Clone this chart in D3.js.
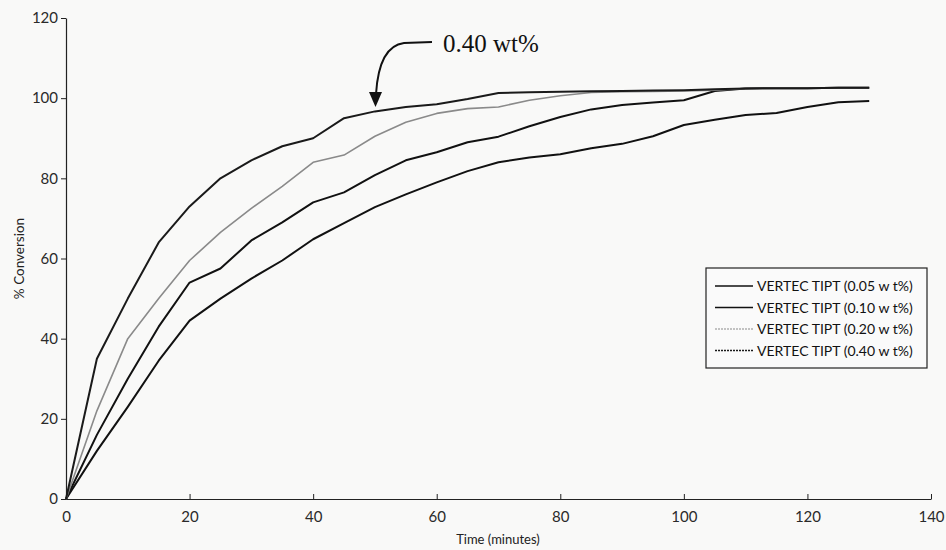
<!DOCTYPE html>
<html>
<head>
<meta charset="utf-8">
<script src="https://cdn.jsdelivr.net/npm/d3@7"></script>
<style>
  html, body { margin: 0; padding: 0; background: #f9f9f8; }
  svg { display: block; }
</style>
</head>
<body>
<svg id="chart" width="946" height="550"></svg>
<script>
// Sampling times (minutes)
const times = [0, 5, 10, 15, 20, 25, 30, 35, 40, 45, 50, 55, 60, 65, 70, 75, 80, 85, 90, 95, 100, 105, 110, 115, 120, 125, 130];

// % conversion per catalyst loading
const conv005 = [0, 12, 23, 34.5, 44.5, 50, 55, 59.5, 64.8, 68.8, 72.8, 76, 79, 81.8, 84, 85.2, 86, 87.5, 88.6, 90.5, 93.3, 94.6, 95.8, 96.3, 97.8, 99, 99.3];
const conv010 = [0, 16, 30, 43, 54, 57.5, 64.5, 69, 74, 76.5, 80.8, 84.5, 86.5, 89, 90.4, 93, 95.3, 97.2, 98.3, 98.9, 99.5, 101.8, 102.4, 102.5, 102.5, 102.6, 102.6];
const conv020 = [0, 22, 40, 50, 59.5, 66.5, 72.5, 78, 84, 85.8, 90.5, 94, 96.2, 97.4, 97.8, 99.5, 100.6, 101.4, 101.6, 101.7, 101.8, 102, 102.4, 102.5, 102.5, 102.6, 102.6];
const conv040 = [0, 35, 50, 64, 73, 80, 84.5, 88, 90, 95, 96.7, 97.8, 98.5, 99.8, 101.3, 101.5, 101.6, 101.7, 101.8, 101.9, 102, 102.2, 102.4, 102.5, 102.5, 102.6, 102.6];

const seriesNames = ["VERTEC TIPT (0.05 w t%)", "VERTEC TIPT (0.10 w t%)", "VERTEC TIPT (0.20 w t%)", "VERTEC TIPT (0.40 w t%)"];
const seriesValues = [conv005, conv010, conv020, conv040];

const xTicks = [0, 20, 40, 60, 80, 100, 120, 140];
const yTicks = [0, 20, 40, 60, 80, 100, 120];

const xTitle = "Time (minutes)";
const yTitle = "% Conversion";
const annotation = "0.40 wt%";

// Line styling per series
const strokeColors = ["#111", "#111", "#8a8a8a", "#1a1a1a"];
const strokeWidths = [2, 2, 1.6, 2];

const svg = d3.select("#chart");
const font = "Lato, 'Open Sans', sans-serif";

const x = d3.scaleLinear().domain([0, 140]).range([66, 931]);
const y = d3.scaleLinear().domain([0, 120]).range([499, 18]);

// Axes
const yAxis = svg.append("g")
  .attr("transform", `translate(${x(0)},0)`)
  .call(d3.axisLeft(y).tickValues(yTicks).tickSize(5).tickPadding(3).tickSizeOuter(0));
const xAxis = svg.append("g")
  .attr("transform", `translate(0,${y(0)})`)
  .call(d3.axisBottom(x).tickValues(xTicks).tickSize(-5).tickPadding(10).tickSizeOuter(0));

[xAxis, yAxis].forEach(g => {
  g.select(".domain").attr("stroke", "#222").attr("stroke-width", 1.2);
  g.selectAll(".tick line").attr("stroke", "#222").attr("stroke-width", 1);
  g.selectAll(".tick text")
    .attr("fill", "#2a2a2a")
    .style("font-family", font)
    .style("font-size", "15px");
});
xAxis.selectAll(".tick text").attr("dy", "0.85em");

// Axis titles
svg.append("text")
  .attr("x", 498).attr("y", 544)
  .attr("text-anchor", "middle")
  .style("font-family", font).style("font-size", "13px").attr("fill", "#222")
  .text(xTitle);
svg.append("text")
  .attr("transform", `translate(24,${y(60)}) rotate(-90)`)
  .attr("text-anchor", "middle")
  .style("font-family", font).style("font-size", "13.5px").attr("fill", "#222")
  .text(yTitle);

// Conversion curves
const line = d3.line().x((d, i) => x(times[i])).y(d => y(d));
seriesValues.forEach((vals, k) => {
  svg.append("path")
    .datum(vals)
    .attr("fill", "none")
    .attr("stroke", strokeColors[k])
    .attr("stroke-width", strokeWidths[k])
    .attr("stroke-linejoin", "round")
    .attr("d", line);
});

// Legend
const lg = svg.append("g").attr("transform", "translate(706,268)");
lg.append("rect")
  .attr("width", 221).attr("height", 100)
  .attr("fill", "#fafafa").attr("stroke", "#222").attr("stroke-width", 1.2);
seriesNames.forEach((name, k) => {
  const ly = 18 + k * 21.5;
  lg.append("line")
    .attr("x1", 9).attr("x2", 47).attr("y1", ly).attr("y2", ly)
    .attr("stroke", strokeColors[k])
    .attr("stroke-width", k === 2 ? 1.2 : 1.5)
    .attr("stroke-dasharray", k >= 2 ? "2,1" : null);
  lg.append("text")
    .attr("x", 51).attr("y", ly + 5)
    .style("font-family", font).style("font-size", "14px").attr("fill", "#111")
    .text(name);
});

// Annotation with curved arrow pointing at the 0.40 wt% curve
svg.append("text")
  .attr("x", 443).attr("y", 52)
  .style("font-family", "'Liberation Serif', 'DejaVu Serif', serif")
  .style("font-size", "25px").attr("fill", "#111")
  .text(annotation);
svg.append("path")
  .attr("d", "M432,42 L404,43 C388,45 378,62 376,94")
  .attr("fill", "none").attr("stroke", "#111").attr("stroke-width", 2);
svg.append("path")
  .attr("d", "M369,92 L382,92 L375.5,107 Z")
  .attr("fill", "#111");
</script>
</body>
</html>
